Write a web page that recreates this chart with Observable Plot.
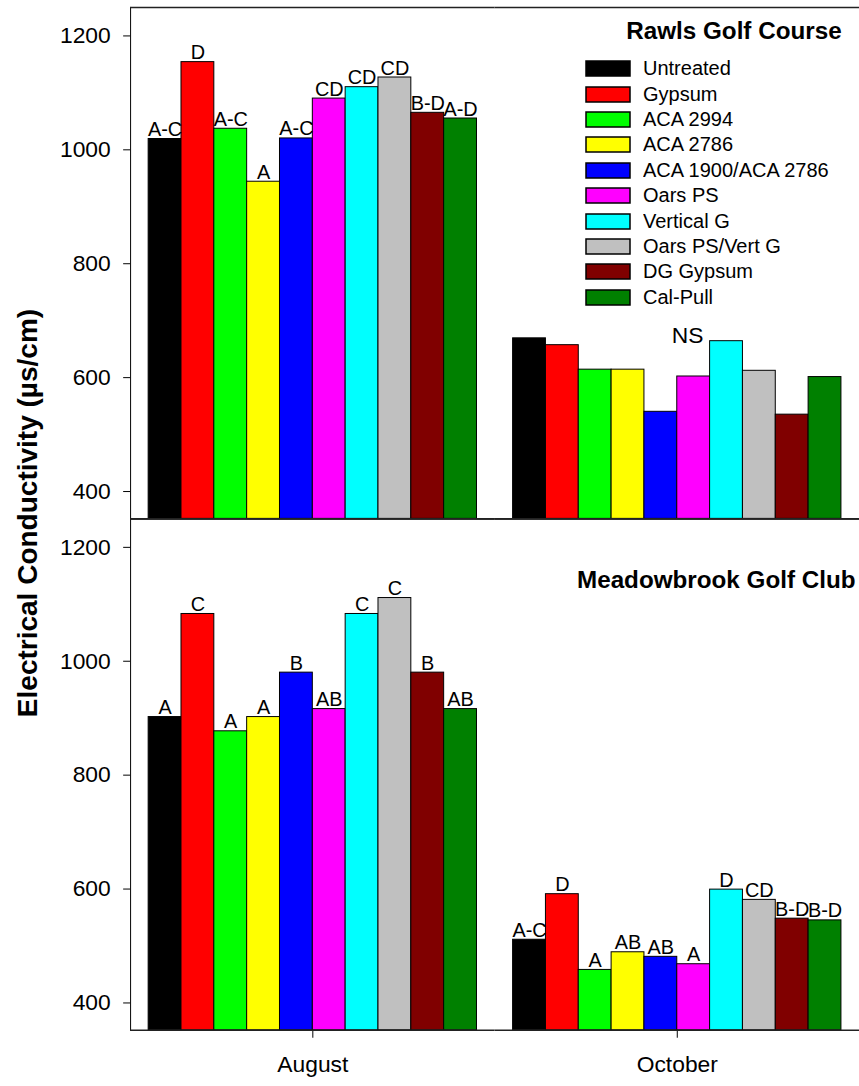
<!DOCTYPE html>
<html>
<head>
<meta charset="utf-8">
<script src="https://cdn.jsdelivr.net/npm/d3@7"></script>
<script src="https://cdn.jsdelivr.net/npm/@observablehq/plot@0.6"></script>
<style>
  html, body { margin: 0; padding: 0; background: #fff; overflow: hidden; }
  #wrap { position: relative; width: 859px; height: 1086px; overflow: hidden; font-family: "Liberation Sans", Arial, sans-serif; }
  #ylabel { position: absolute; left: 28px; top: 513px; transform: translate(-50%, -50%) rotate(-90deg);
            white-space: nowrap; font: bold 28px "Liberation Sans", Arial, sans-serif; color: #000; }
  #legend { position: absolute; left: 586px; top: 56px; }
  .lg-swatches { font-family: "Liberation Sans", Arial, sans-serif !important; font-size: 20px !important; color: #000 !important; margin: 0 !important; }
  .lg-swatch { height: 25.4px !important; padding: 0 !important; margin: 0 !important; display: flex !important; align-items: center !important; }
  .lg-swatch svg { margin-right: 13px !important; overflow: visible !important; }
  .lg-swatch rect { stroke: #000; stroke-width: 1.5px; }
</style>
</head>
<body>
<div id="wrap"></div>
<script>
// ---- data ----
const treatments = ["Untreated", "Gypsum", "ACA 2994", "ACA 2786", "ACA 1900/ACA 2786",
                    "Oars PS", "Vertical G", "Oars PS/Vert G", "DG Gypsum", "Cal-Pull"];
const colors = ["#000000", "#ff0000", "#00ff00", "#ffff00", "#0000ff",
                "#ff00ff", "#00ffff", "#c0c0c0", "#800000", "#008000"];
const months = ["August", "October"];
const sites = ["Rawls Golf Course", "Meadowbrook Golf Club"];

const rawlsAug = [1019, 1154, 1037, 944, 1020, 1090, 1110, 1127, 1065, 1055];
const rawlsOct = [669, 657, 614, 614, 540, 602, 664, 612, 535, 601];
const meadAug  = [902, 1083, 877, 902, 980, 916, 1083, 1111, 980, 916];
const meadOct  = [511, 591, 458, 489, 481, 468, 599, 581, 548, 545];

const rawlsAugLetters = ["A-C", "D", "A-C", "A", "A-C", "CD", "CD", "CD", "B-D", "A-D"];
const rawlsOctLetters = [null, null, null, null, null, null, null, null, null, null];
const meadAugLetters  = ["A", "C", "A", "A", "B", "AB", "C", "C", "B", "AB"];
const meadOctLetters  = ["A-C", "D", "A", "AB", "AB", "A", "D", "CD", "B-D", "B-D"];
const rawlsOctNote = "NS";

const yTicks = [400, 600, 800, 1000, 1200];
const yMin = 352, yMax = 1250;

// ---- table ----
const series = [
  [sites[0], months[0], rawlsAug, rawlsAugLetters],
  [sites[0], months[1], rawlsOct, rawlsOctLetters],
  [sites[1], months[0], meadAug, meadAugLetters],
  [sites[1], months[1], meadOct, meadOctLetters]
];
const rows = series.flatMap(([site, month, vals, letters]) =>
  treatments.map((t, i) => ({site, month, treatment: t, value: vals[i], letter: letters[i]})));

const font = '"Liberation Sans", Arial, sans-serif';

const chart = Plot.plot({
  width: 865,
  height: 1086,
  marginLeft: 131,
  marginRight: 0,
  marginTop: 7,
  marginBottom: 49,
  style: {fontFamily: font, fontSize: "23px", color: "#000", background: "#fff"},
  fx: {domain: months, paddingInner: 0, paddingOuter: 0, round: false, axis: "bottom",
       tickSize: 8, tickPadding: 18, label: null},
  fy: {domain: sites, padding: 0, round: false, axis: null},
  x: {domain: treatments, paddingInner: 0, paddingOuter: 0.55, round: false, axis: null},
  y: {domain: [yMin, yMax], ticks: yTicks, tickFormat: d => String(d), tickSize: 7, tickPadding: 13,
      line: true, label: null},
  color: {domain: treatments, range: colors},
  marks: [
    Plot.barY(rows, {fx: "month", fy: "site", x: "treatment", y1: () => yMin, y2: "value",
                     fill: "treatment", stroke: "#000", strokeWidth: 1}),
    Plot.text(rows.filter(d => d.letter), {fx: "month", fy: "site", x: "treatment", y: "value",
                     text: "letter", lineAnchor: "bottom", dy: -3, fontSize: 20, fill: "#000"}),
    Plot.text([{site: sites[0], month: months[1], treatment: treatments[5], label: rawlsOctNote}],
              {fx: "month", fy: "site", x: "treatment", y: () => d3.max(rawlsOct), text: "label",
               lineAnchor: "bottom", dy: 5, dx: -6, fontSize: 23, fill: "#000"}),
    Plot.text([{site: sites[0], month: months[1], label: sites[0]}],
              {fx: "month", fy: "site", text: "label", frameAnchor: "top-right", textAnchor: "end",
               lineAnchor: "top", dx: -18, dy: 14, fontSize: 24.4, fontWeight: "bold", fill: "#000"}),
    Plot.text([{site: sites[1], month: months[1], label: sites[1]}],
              {fx: "month", fy: "site", text: "label", frameAnchor: "top-right", textAnchor: "end",
               lineAnchor: "top", dx: -4, dy: 52, fontSize: 24.4, fontWeight: "bold", fill: "#000"}),
    Plot.ruleY([yMin, yMax], {stroke: "#222", strokeWidth: 1.6})
  ]
});

const wrap = document.getElementById("wrap");
wrap.appendChild(chart);

const legend = Plot.legend({
  color: {domain: treatments, range: colors},
  legend: "swatches",
  columns: 1,
  swatchWidth: 44,
  swatchHeight: 15,
  className: "lg",
  style: {fontSize: "20px", fontFamily: font, color: "#000"}
});
const lgBox = document.createElement("div");
lgBox.id = "legend";
lgBox.appendChild(legend);
wrap.appendChild(lgBox);

const yl = document.createElement("div");
yl.id = "ylabel";
yl.textContent = "Electrical Conductivity (µs/cm)";
wrap.appendChild(yl);
</script>
</body>
</html>
